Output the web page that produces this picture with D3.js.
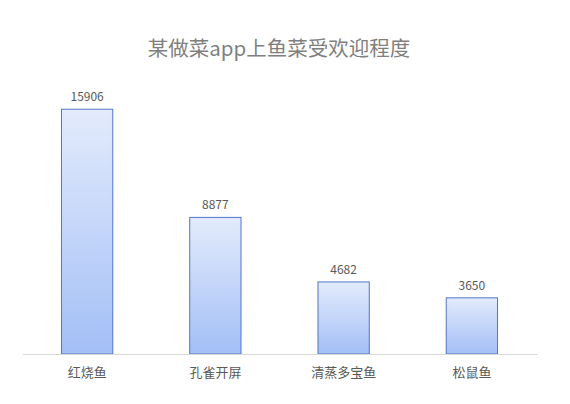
<!DOCTYPE html>
<html>
<head>
<meta charset="utf-8">
<script src="https://cdn.jsdelivr.net/npm/d3@7"></script>
<style>
  body { margin: 0; background: #fff; }
  svg { display: block; font-family: "Noto Sans CJK SC", "Noto Sans", sans-serif; }
</style>
</head>
<body>
<div id="chart"></div>
<script>
// Data
const categories = ["红烧鱼", "孔雀开屏", "清蒸多宝鱼", "松鼠鱼"];
const values = [15906, 8877, 4682, 3650];
const title = "某做菜app上鱼菜受欢迎程度";

const width = 570, height = 404;
const baseline = 354;

const svg = d3.select("#chart").append("svg")
    .attr("width", width)
    .attr("height", height);

// Vertical gradient for the bars
const grad = svg.append("defs").append("linearGradient")
    .attr("id", "barFill")
    .attr("x1", 0).attr("y1", 0).attr("x2", 0).attr("y2", 1);
grad.append("stop").attr("offset", "0%").attr("stop-color", "#e3ebfc");
grad.append("stop").attr("offset", "100%").attr("stop-color", "#a3bff6");

const x = d3.scaleBand()
    .domain(categories)
    .range([23, 536])
    .paddingInner(0.6)
    .paddingOuter(0.3);

const y = d3.scaleLinear()
    .domain([0, 18000])
    .range([baseline, 77]);

// Title
svg.append("text")
    .attr("x", 279)
    .attr("y", 56)
    .attr("text-anchor", "middle")
    .attr("font-size", "20.5px")
    .attr("fill", "#7f7f7f")
    .text(title);

// Bars
svg.selectAll("rect.bar")
    .data(values)
    .enter()
    .append("rect")
    .attr("class", "bar")
    .attr("x", (d, i) => x(categories[i]))
    .attr("y", d => y(d))
    .attr("width", x.bandwidth())
    .attr("height", d => y(0) - y(d))
    .attr("fill", "url(#barFill)")
    .attr("stroke", "#5076c8")
    .attr("stroke-width", 1);

// Value labels
svg.selectAll("text.val")
    .data(values)
    .enter()
    .append("text")
    .attr("class", "val")
    .attr("x", (d, i) => x(categories[i]) + x.bandwidth() / 2)
    .attr("y", d => y(d) - 8)
    .attr("text-anchor", "middle")
    .attr("font-size", "12px")
    .attr("fill", "#595959")
    .text(d => d);

// Category axis
const axis = svg.append("g")
    .attr("transform", `translate(0,${baseline})`)
    .call(d3.axisBottom(x).tickSize(0).tickPadding(14));
axis.select(".domain")
    .attr("stroke", "#d9d9d9")
    .attr("d", "M23,0.5H538");
axis.selectAll("text")
    .attr("font-size", "13px")
    .attr("fill", "#595959")
    .attr("font-family", "\"Noto Sans CJK SC\", sans-serif");
</script>
</body>
</html>
